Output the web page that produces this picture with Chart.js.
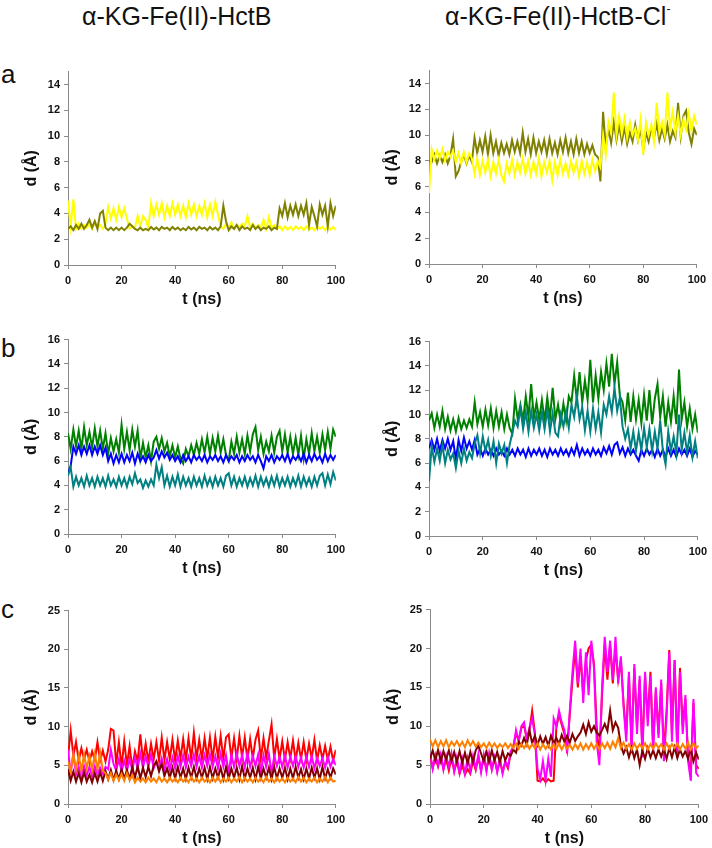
<!DOCTYPE html>
<html>
<head>
<meta charset="utf-8">
<script src="https://cdn.jsdelivr.net/npm/chart.js@4.4.0/dist/chart.umd.min.js"></script>
<style>
  body { margin: 0; background: #fff; width: 712px; height: 848px; position: relative; overflow: hidden;
         font-family: "Liberation Sans", Arial, sans-serif; color: #111; }
  .hdr { position: absolute; top: 2px; font-size: 25px; white-space: nowrap; }
  .hdr sup { font-size: 12px; position: relative; top: -3px; }
  .tag { position: absolute; left: 1px; font-size: 26px; }
  canvas { position: absolute; }
</style>
</head>
<body>
<div class="hdr" style="left:82px">α-KG-Fe(II)-HctB</div>
<div class="hdr" style="left:445px">α-KG-Fe(II)-HctB-Cl<sup>-</sup></div>
<div class="tag" style="top:59px">a</div>
<div class="tag" style="top:333px">b</div>
<div class="tag" style="top:594px">c</div>

<canvas id="chartA1" width="332" height="252" style="left:18px;top:61px"></canvas>
<canvas id="chartA2" width="332" height="252" style="left:379px;top:60px"></canvas>
<canvas id="chartB1" width="332" height="253" style="left:18px;top:329px"></canvas>
<canvas id="chartB2" width="333" height="253" style="left:379px;top:331px"></canvas>
<canvas id="chartC1" width="332" height="252" style="left:18px;top:600px"></canvas>
<canvas id="chartC2" width="333" height="253" style="left:380px;top:599px"></canvas>

<script>
// sampling grid, 1 ns steps
const timeNs = Array.from({ length: 101 }, (_, i) => i);

// panel a, HctB
const a1Olive = [2.8,3.0,2.7,3.1,2.8,3.2,2.8,3.1,3.5,2.9, 3.4,2.8,4.0,4.2,2.9,2.7,2.9,2.7,2.9,2.7,
  2.9,2.7,2.9,3.2,3.0,2.8,2.7,2.9,2.7,2.8, 2.7,2.95,2.75,2.9,2.7,2.95,2.8,2.9,2.7,2.95,
  2.75,2.9,2.7,2.85,2.7,2.95,2.75,2.9,2.7,2.95, 2.8,2.9,2.7,2.95,2.75,2.9,2.7,3.0,4.6,3.4,
  2.7,3.0,2.8,3.1,2.7,3.0,2.8,2.9,2.7,3.1, 2.8,3.0,2.7,2.9,2.8,3.0,2.7,2.9,2.8,4.4,
  3.8,4.8,3.7,4.6,3.9,4.7,3.8,4.6,3.9,4.8, 3.1,4.5,3.8,3.0,4.7,3.9,4.6,3.0,4.8,3.8, 4.6];
const a1Yellow = [5.0,3.0,5.1,2.8,3.2,2.8,3.1,2.9,3.2,2.8, 3.3,2.9,3.1,2.8,3.2,4.5,3.6,4.4,3.5,4.5,
  3.7,4.4,3.6,2.8,3.0,2.9,3.8,3.0,3.8,3.5, 2.9,4.8,3.8,4.7,3.9,4.8,3.7,4.6,3.8,4.8,
  3.9,4.7,3.8,4.6,3.7,4.8,3.9,4.7,3.8,4.6, 3.9,4.8,3.7,4.7,3.8,4.9,3.9,3.0,2.8,3.2,
  2.9,3.3,2.8,3.1,2.9,3.2,3.0,3.8,2.9,3.2, 2.8,3.1,2.9,3.5,2.8,3.7,2.9,3.1,2.8,3.0,
  2.7,3.0,2.75,2.95,2.7,3.0,2.8,2.95,2.7,3.0, 2.75,2.9,2.7,3.0,2.8,2.95,2.7,3.0,2.75,2.95, 2.7];

// panel a, HctB-Cl-
const a2Olive = [8.0,7.9,8.5,7.8,8.4,7.9,8.5,7.8,8.4,9.7, 6.8,7.2,7.9,8.5,7.8,8.4,7.9,9.8,8.6,9.6,
  8.7,9.9,8.5,10.0,8.6,9.5,8.4,9.4,8.6,9.3, 8.5,9.6,8.7,9.5,8.6,10.2,8.7,9.7,8.5,9.8,
  8.6,9.5,8.7,9.6,8.5,9.7,8.6,9.4,8.5,9.6, 8.7,9.8,8.6,9.5,8.5,9.7,8.6,9.5,8.5,9.3,
  8.6,9.2,8.5,8.3,6.4,11.8,9.0,10.5,9.4,11.0, 9.6,10.8,9.5,10.6,9.3,10.2,9.5,10.8,9.6,10.4,
  8.9,10.2,9.5,10.6,9.8,10.9,9.6,10.5,9.7,10.8, 9.5,10.3,9.8,12.5,9.9,11.5,11.9,10.2,9.3,10.5, 10.0];
const a2Yellow = [5.5,8.9,8.1,8.8,8.2,8.9,8.0,8.7,8.3,8.8, 7.9,8.6,7.8,8.7,7.9,8.6,8.2,7.0,8.2,6.9,
  8.0,7.1,8.1,6.8,7.9,7.0,8.1,6.9,6.4,7.8, 7.0,8.1,6.9,7.9,7.1,8.2,7.0,8.0,6.9,7.9,
  7.0,8.2,6.8,7.9,7.1,8.0,6.5,7.9,6.9,8.1, 7.0,7.8,6.9,8.0,7.1,7.9,6.8,8.0,7.0,7.9,
  6.9,8.1,7.2,8.0,7.5,10.0,8.5,11.0,10.2,13.3, 10.0,11.5,10.1,11.3,9.8,11.0,10.0,10.5,9.6,11.2,
  8.5,11.0,10.0,10.8,9.5,12.5,10.2,11.0,10.0,13.3, 10.5,11.8,10.2,11.5,10.0,11.2,10.4,11.7,10.3,11.5, 10.8];

// panel b, HctB
const b1Green = [8.3,7.0,8.6,7.2,8.5,7.0,8.8,7.3,8.4,7.1, 8.7,7.2,8.5,7.0,8.3,6.6,7.9,6.8,7.8,6.7,
  9.0,7.0,8.4,6.9,8.6,7.2,8.5,6.2,7.5,6.3, 7.3,6.0,7.6,8.0,7.0,7.9,6.8,7.5,6.4,7.3,
  6.3,7.2,6.2,5.8,7.0,6.4,7.3,6.5,7.5,6.6, 7.8,6.7,8.0,6.6,7.9,6.8,8.1,6.7,7.8,6.5,
  6.0,7.6,6.6,8.0,6.7,7.8,6.6,8.1,6.8,8.2, 8.8,6.9,8.0,6.6,7.6,6.8,8.1,6.7,8.0,8.5,
  6.8,8.2,6.7,8.0,6.6,7.9,6.5,8.1,6.2,7.8, 6.6,8.3,6.8,8.0,6.7,8.2,6.9,8.4,7.0,8.6, 8.0];
const b1Blue = [5.0,5.6,7.2,6.6,7.3,6.5,7.2,6.6,7.3,6.5, 7.2,6.6,7.3,6.5,7.1,6.0,6.6,5.8,6.5,5.9,
  6.6,5.9,6.5,6.0,6.7,5.8,6.6,6.0,6.4,5.9, 6.5,6.0,6.3,6.9,6.2,6.8,6.3,6.7,6.1,6.5,
  6.0,6.4,5.9,6.5,6.0,6.4,5.9,6.5,6.1,6.4, 6.0,6.5,5.9,6.4,6.1,6.5,6.0,6.4,5.9,6.5,
  6.0,6.4,6.1,6.5,5.9,6.4,6.0,6.5,6.1,6.4, 5.9,6.5,6.0,5.4,6.4,6.0,6.5,5.9,6.4,6.1,
  6.5,6.0,6.6,5.9,6.4,6.1,6.5,6.0,6.6,5.9, 6.5,6.0,6.6,6.1,6.4,5.9,6.6,6.0,6.5,6.1, 6.5];
const b1Teal = [4.8,5.5,3.9,4.7,4.0,4.6,3.9,4.8,4.0,4.6, 3.9,4.7,4.0,4.6,3.9,4.8,4.0,4.5,3.9,4.7,
  4.0,4.6,3.9,4.7,4.1,5.0,4.2,4.5,3.8,4.4, 3.9,4.5,4.0,5.7,4.6,5.5,4.0,4.8,3.9,4.7,
  4.0,4.9,3.9,4.7,4.0,4.6,3.9,4.7,4.0,4.6, 3.9,4.8,4.0,4.6,3.9,4.7,4.0,4.6,3.9,4.8,
  5.0,4.0,4.7,3.9,4.6,4.0,4.7,3.9,4.6,4.0, 4.8,3.9,4.7,4.0,4.6,3.9,4.7,4.0,4.8,3.9,
  4.6,4.0,4.7,3.9,4.6,4.0,4.8,3.9,4.7,4.0, 4.6,3.9,4.7,4.0,4.8,5.0,4.0,4.9,4.1,5.1, 4.4];

// panel b, HctB-Cl-
const b2Green = [9.5,10.1,8.9,10.0,9.0,10.3,8.8,9.8,8.7,9.6, 8.6,9.7,8.8,9.5,8.9,9.6,9.0,11.0,9.2,10.2,
  9.0,10.4,9.1,10.5,8.9,10.3,9.0,10.2,8.8,10.0, 8.9,8.4,11.3,9.6,10.8,9.5,11.5,9.8,12.5,9.7,
  11.0,9.6,11.2,9.5,11.4,9.7,12.2,9.6,10.8,9.3, 10.9,9.5,11.5,11.0,13.2,11.2,13.5,11.0,12.8,11.2,
  14.5,11.0,13.2,11.3,13.5,12.0,14.2,12.3,15.0,12.5, 14.3,11.5,11.0,9.5,11.8,9.4,11.5,9.6,11.2,9.3,
  11.6,9.5,12.0,9.2,11.3,12.5,9.8,11.5,9.0,11.0, 9.4,11.5,9.2,13.7,9.6,11.0,9.0,10.5,8.8,10.0, 8.5];
const b2Teal = [4.5,7.4,6.1,7.2,6.2,7.5,6.0,7.1,6.3,6.8, 5.6,7.0,6.0,7.2,6.2,6.9,6.4,7.6,8.3,6.8,
  8.2,7.0,7.9,6.6,7.8,6.0,7.6,6.8,7.5,6.0, 7.5,8.5,9.5,9.0,10.5,8.8,10.2,8.6,10.3,8.9,
  10.0,8.7,10.2,8.8,10.4,8.6,10.1,8.5,8.2,10.0, 9.0,10.3,8.9,10.8,9.8,11.5,9.6,10.6,8.7,10.3,
  8.6,10.5,8.8,10.2,8.5,10.8,10.0,11.5,10.2,12.2, 10.3,11.4,9.0,8.0,8.8,7.2,8.6,7.0,8.5,7.1,
  8.9,7.3,8.8,7.0,8.6,7.2,9.5,7.0,5.9,8.6, 7.0,8.2,6.8,10.0,7.1,8.5,6.9,8.3,6.5,7.8, 6.4];
const b2Blue = [7.2,7.9,7.1,8.0,7.0,7.9,7.2,8.0,7.1,7.8, 6.3,7.9,7.0,8.1,7.2,7.8,7.1,7.9,6.7,7.2,
  6.6,7.2,6.7,7.1,6.6,7.2,6.7,7.0,6.6,7.2, 6.7,7.1,6.6,7.2,6.7,7.1,6.5,7.2,6.6,7.1,
  6.7,7.2,6.6,7.1,6.5,7.2,6.7,7.1,6.6,7.2, 6.7,7.1,6.6,7.2,6.7,7.5,6.6,7.2,6.7,7.1,
  6.6,7.2,6.7,7.1,6.6,7.3,6.8,7.4,6.7,7.5, 7.7,6.8,7.3,6.6,7.2,6.7,7.1,6.6,6.2,7.1,
  6.6,7.2,6.7,7.1,6.5,7.2,6.6,7.1,6.5,7.2, 6.6,7.1,6.5,7.2,6.7,7.1,6.6,7.2,6.5,7.0, 6.7];

// panel c, HctB
const c1Red = [6.0,9.5,6.2,8.0,5.6,7.2,5.8,7.0,5.5,6.8, 5.7,8.0,5.6,6.9,5.5,7.0,9.7,9.5,5.2,8.0,
  4.8,8.1,5.0,7.5,4.6,6.8,5.5,9.0,5.6,7.8, 5.5,7.8,5.8,8.0,5.6,8.6,5.7,8.0,5.8,8.3,
  5.6,8.2,5.9,8.4,5.7,8.5,5.8,9.2,5.9,8.3, 5.8,8.5,5.9,8.6,5.7,8.7,6.0,8.8,5.8,8.6,
  9.0,5.9,8.5,5.8,8.8,6.0,8.6,5.7,8.4,5.9, 8.3,9.5,5.8,8.5,6.0,8.2,10.3,5.9,8.4,5.8,
  8.1,5.7,8.0,5.9,8.2,5.6,7.9,5.8,8.0,5.7, 7.8,5.9,8.3,5.6,7.6,5.8,7.5,5.7,7.4,5.6, 7.0];
const c1Magenta = [7.0,4.0,6.5,3.8,4.8,3.6,4.9,3.7,4.8,3.6, 4.9,3.8,4.7,3.9,4.8,4.5,7.0,5.2,4.3,5.8,
  4.2,5.6,4.3,5.8,4.4,6.0,4.6,6.5,4.7,6.2, 4.8,6.4,4.6,5.5,4.5,5.9,4.3,5.8,4.4,6.0,
  4.6,6.2,4.8,6.3,4.7,6.1,4.9,6.4,4.8,6.2, 4.7,6.3,4.9,6.4,4.8,6.2,4.6,6.5,4.8,6.3,
  4.0,6.4,4.8,6.5,4.9,6.3,4.7,6.6,4.8,6.2, 4.9,6.4,4.0,6.3,4.8,6.5,4.0,6.2,4.9,6.1,
  4.8,6.3,4.7,6.1,4.9,6.2,4.8,6.0,4.7,6.1, 4.8,6.2,4.6,6.0,4.9,5.9,4.7,6.1,4.8,5.8, 5.0];
const c1DarkRed = [4.5,3.0,4.2,2.9,4.0,2.8,4.1,2.9,3.8,2.8, 4.0,2.9,4.1,3.0,4.3,3.2,4.4,3.1,4.3,3.2,
  4.5,3.3,4.4,3.2,4.8,3.4,4.9,3.3,4.7,3.5, 4.8,3.6,5.0,5.5,4.2,5.2,3.6,4.6,3.4,4.7,
  3.3,4.8,3.4,4.6,3.2,4.7,3.4,4.8,3.3,4.6, 3.4,4.7,3.2,4.8,3.3,4.6,3.4,4.7,3.2,4.8,
  3.3,4.6,3.4,4.7,3.2,4.9,3.3,4.6,3.4,4.7, 3.2,4.8,3.3,4.6,3.4,4.7,3.2,4.8,3.3,4.6,
  3.4,4.7,3.2,4.6,3.3,4.8,3.4,4.5,3.2,4.6, 3.3,4.7,3.4,4.6,3.2,4.8,3.3,4.5,3.4,4.6, 3.8];
const c1Orange = [5.5,4.2,6.5,4.5,6.3,4.3,6.4,4.6,6.2,4.4, 6.5,4.5,6.6,4.3,4.0,3.2,4.0,3.0,3.8,3.1,
  3.9,3.0,4.0,3.1,3.7,2.8,3.4,2.9,3.3,2.8, 3.4,2.9,3.3,2.8,3.5,2.9,3.3,2.8,3.4,2.9,
  3.3,2.8,3.4,2.9,3.3,2.8,3.5,2.9,3.3,2.8, 3.4,2.9,3.3,2.8,3.4,2.9,3.5,2.8,3.3,2.9,
  3.4,2.8,3.3,2.9,3.5,2.8,3.4,2.9,3.3,2.8, 3.4,2.9,3.3,2.8,3.5,2.9,3.3,2.8,3.4,2.9,
  3.3,2.8,3.4,2.9,3.3,2.8,3.5,2.9,3.4,2.8, 3.3,2.9,3.4,2.8,3.3,2.9,3.5,2.8,3.4,2.9, 3.0];

// panel c, HctB-Cl-
const c2Red = [6.3,4.6,6.0,4.8,6.2,4.5,5.8,4.3,6.0,4.2, 5.5,3.9,5.0,3.8,4.5,3.9,5.6,4.4,6.0,4.3,
  6.1,4.4,6.2,4.5,5.8,4.2,5.6,4.1,5.4,4.6, 6.5,7.5,9.0,8.2,9.8,10.0,8.5,9.5,12.0,9.2,
  3.0,2.9,3.3,2.8,3.2,2.9,3.0,9.8,11.5,10.2, 9.0,7.0,11.5,16.0,20.0,15.0,19.0,14.0,18.5,20.0,
  20.5,18.0,10.0,6.0,14.0,20.5,16.0,20.5,15.5,20.0, 16.0,18.5,13.0,9.0,16.5,7.5,17.5,10.0,16.0,7.0,
  16.5,11.0,17.0,7.5,14.5,9.0,15.5,6.5,12.0,19.8, 9.0,18.5,7.0,17.5,10.0,13.5,6.0,4.0,13.0,5.0, 4.5];
const c2Magenta = [6.5,4.5,6.3,5.0,6.4,4.4,6.2,4.8,6.5,4.2, 6.0,4.0,5.8,3.9,5.9,4.3,6.2,4.5,6.4,4.1,
  6.3,4.2,6.5,4.4,6.0,4.1,5.8,3.9,5.5,4.8, 6.8,7.2,9.5,8.0,10.0,10.5,8.2,9.8,11.0,9.0,
  4.5,3.2,5.5,3.0,5.8,3.5,11.0,10.0,12.0,10.5, 9.5,6.5,12.0,17.0,21.0,15.5,20.0,13.0,19.5,14.0,
  21.0,17.5,8.0,5.0,15.0,21.5,17.0,21.0,16.0,21.5, 15.5,19.0,12.5,8.0,17.0,6.5,18.0,9.0,16.5,6.0,
  17.0,10.0,16.5,6.5,15.0,8.5,16.0,5.5,11.0,19.5, 8.0,18.5,6.0,17.0,9.0,14.0,5.5,3.0,13.5,4.0, 3.5];
const c2DarkRed = [5.8,6.9,5.6,7.0,5.5,6.8,5.7,6.9,5.5,6.7, 5.4,6.8,5.3,6.6,5.2,6.7,5.4,6.9,7.5,6.5,
  5.5,6.8,5.4,6.9,5.6,6.7,5.3,6.8,5.6,6.5, 6.2,7.0,6.6,8.0,7.5,8.5,7.6,9.5,7.8,8.8,
  7.6,8.7,7.7,8.6,7.5,8.8,7.8,8.5,7.7,8.9, 8.0,8.8,7.9,9.0,8.1,8.7,9.2,10.2,9.0,10.5,
  9.3,10.0,9.2,8.8,9.5,10.3,9.4,12.0,9.5,10.5, 9.8,7.5,6.5,7.3,6.0,7.2,5.9,7.0,5.0,6.9,
  5.8,7.2,6.0,6.9,5.9,7.0,6.1,7.1,5.8,7.2, 6.0,7.3,5.9,7.0,6.1,6.8,5.8,7.1,5.5,6.6, 5.7];
const c2Orange = [8.3,7.4,8.2,7.3,8.1,7.4,8.2,7.3,8.0,7.5, 8.1,7.4,8.0,7.3,8.2,7.5,8.1,7.4,7.9,7.3,
  7.8,7.2,7.9,7.3,7.8,7.2,7.7,7.3,7.8,7.2, 7.7,7.2,7.8,7.1,7.7,7.2,7.8,7.1,7.7,7.2,
  7.8,7.0,7.7,7.1,7.6,7.0,7.7,7.1,7.8,7.0, 7.7,7.1,7.6,7.0,7.7,7.1,7.8,7.0,7.7,7.1,
  7.8,7.1,7.7,7.0,7.8,7.2,7.9,7.1,8.0,7.3, 8.5,7.2,7.9,7.1,7.7,7.0,7.8,7.1,7.7,7.2,
  7.8,7.0,7.7,7.1,7.8,7.2,7.7,7.0,7.8,7.1, 7.7,7.2,7.8,7.0,7.7,7.1,7.9,7.0,7.8,7.2, 7.5];

const OLIVE = 'rgb(128,128,0)', YELLOW = 'rgb(255,255,0)';
const GREEN = 'rgb(0,128,0)', BLUE = 'rgb(0,0,255)', TEAL = 'rgb(0,128,128)';
const RED = 'rgb(255,0,0)', MAGENTA = 'rgb(255,0,255)', DARKRED = 'rgb(128,0,0)', ORANGE = 'rgb(255,128,0)';

const AXIS_GREY = '#8a8a8a';
const tickFont = { family: '"Liberation Sans", Arial, sans-serif', size: 11, weight: 'bold' };
const titleFont = { family: '"Liberation Sans", Arial, sans-serif', size: 16, weight: 'bold' };

// series listed top-most first (Chart.js paints dataset 0 last)
function drawPanel(id, series, yMax, yStep) {
    new Chart(document.getElementById(id), {
        type: 'line',
        data: {
            datasets: series.map(([vals, color]) => ({
                data: vals.map((v, i) => ({ x: timeNs[i], y: v })),
                borderColor: color,
                borderWidth: 2,
                pointRadius: 0,
                tension: 0,
                fill: false,
            }))
        },
        options: {
            responsive: false,
            animation: false,
            events: [],
            layout: { padding: { top: 8, right: 10, left: 0, bottom: 0 } },
            plugins: { legend: { display: false }, tooltip: { enabled: false } },
            scales: {
                x: {
                    type: 'linear', min: 0, max: 100,
                    ticks: { stepSize: 20, color: '#111', font: tickFont, padding: 5, maxRotation: 0 },
                    grid: { drawOnChartArea: false, tickLength: 4, color: AXIS_GREY },
                    border: { color: AXIS_GREY, width: 1 },
                    title: { display: true, text: 't (ns)', color: '#111', font: titleFont, padding: { top: 4, bottom: 4 } },
                    afterFit: (s) => { s.height = 48; },
                },
                y: {
                    min: 0, max: yMax,
                    ticks: { stepSize: yStep, includeBounds: false, color: '#111', font: tickFont, padding: 4 },
                    grid: { drawOnChartArea: false, tickLength: 4, color: AXIS_GREY },
                    border: { color: AXIS_GREY, width: 1 },
                    title: { display: true, text: 'd (Å)', color: '#111', font: titleFont, padding: { top: 4, bottom: 4 } },
                    afterFit: (s) => { s.width = 50; },
                }
            }
        }
    });
}

drawPanel('chartA1', [[a1Olive, OLIVE], [a1Yellow, YELLOW]], 15, 2);
drawPanel('chartA2', [[a2Yellow, YELLOW], [a2Olive, OLIVE]], 15, 2);
drawPanel('chartB1', [[b1Teal, TEAL], [b1Blue, BLUE], [b1Green, GREEN]], 16, 2);
drawPanel('chartB2', [[b2Teal, TEAL], [b2Blue, BLUE], [b2Green, GREEN]], 16, 2);
drawPanel('chartC1', [[c1Orange, ORANGE], [c1DarkRed, DARKRED], [c1Magenta, MAGENTA], [c1Red, RED]], 25, 5);
drawPanel('chartC2', [[c2Orange, ORANGE], [c2DarkRed, DARKRED], [c2Magenta, MAGENTA], [c2Red, RED]], 25, 5);
</script>
</body>
</html>
